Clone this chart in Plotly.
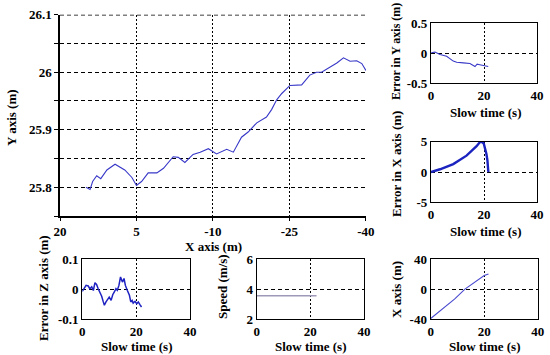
import plotly.graph_objects as go

# ---------------- data ----------------
main_x = [14.9, 14.1, 13.6, 12.8, 12.0, 10.8, 9.2, 7.3, 5.9, 5.0, 4.0, 2.7, 1.0, -0.3, -2.2, -3.2,
          -4.5, -6.1, -7.5, -9.1, -10.7, -12.7, -14.0, -15.6, -16.9, -18.6, -20.5, -21.5, -22.5,
          -23.5, -25.1, -27.4, -29.0, -30.3, -31.3, -32.9, -34.3, -35.6, -36.9, -38.2, -39.2, -40.0]
main_y = [25.800, 25.796, 25.810, 25.820, 25.815, 25.830, 25.840, 25.830, 25.817, 25.803, 25.810,
          25.825, 25.825, 25.833, 25.853, 25.852, 25.843, 25.857, 25.861, 25.867, 25.858, 25.866,
          25.861, 25.887, 25.896, 25.912, 25.922, 25.935, 25.952, 25.963, 25.977, 25.978, 25.995,
          26.000, 26.000, 26.009, 26.016, 26.025, 26.019, 26.020, 26.015, 26.003]

ey_t = [0.1, 1.5, 3.4, 5.9, 8.4, 9.7, 12.2, 14.7, 16.6, 17.4, 18.4, 19.7, 21.6]
ey_v = [0.01, 0.02, -0.02, -0.05, -0.13, -0.15, -0.16, -0.17, -0.22, -0.18, -0.19, -0.20, -0.22]

ex_t = [0.0, 3.4, 8.4, 13.4, 17.2, 18.4, 19.1, 19.9, 20.9, 21.3, 21.6, 21.8]
ex_v = [0.0, 0.45, 1.3, 2.7, 4.26, 4.9, 5.0, 4.7, 3.0, 1.9, 0.17, 0.0]

ez_t = [0.0, 0.6, 1.4, 2.2, 2.8, 3.5, 4.1, 4.7, 5.3, 5.9, 6.6, 7.2, 7.8, 8.2, 8.8, 9.3, 10.0, 10.7,
        11.3, 11.9, 12.5, 13.0, 13.6, 14.2, 14.9, 15.5, 16.0, 16.7, 17.5, 18.0, 18.5, 18.9, 19.6,
        20.2, 20.8, 21.4, 22.0]
ez_v = [-0.007, 0.004, 0.013, 0.011, 0.002, 0.008, -0.004, 0.022, 0.016, 0.002, -0.009, -0.023,
        -0.042, -0.053, -0.042, -0.034, -0.026, -0.037, -0.018, -0.009, 0.002, -0.003, 0.013,
        0.041, 0.024, 0.036, 0.013, -0.003, -0.020, -0.042, -0.037, -0.046, -0.040, -0.048,
        -0.042, -0.051, -0.059]

sp_t = [0.0, 22.3]
sp_v = [3.55, 3.55]

xt_t = [0.0, 4.5, 9.0, 12.8, 16.0, 20.0, 21.6]
xt_v = [-39.0, -26.0, -13.0, 0.0, 8.0, 18.0, 20.0]

main_xticks = [20, 5, -10, -25, -40]
main_yticks = [25.8, 25.9, 26.0, 26.1]
slow_ticks = [0, 20, 40]

W, H = 550, 355
FONT = "Liberation Serif, Times New Roman, DejaVu Serif, serif"
DASH = "4px,3px"
DOT = "2px,2px"


def px(x):
    return x / W


def py(y):
    return 1 - y / H


fig = go.Figure()

fig.add_trace(go.Scatter(x=main_x, y=main_y, mode="lines",
                         line=dict(color="#3838c8", width=1.1), xaxis="x", yaxis="y"))

tickfont = dict(family=FONT, size=13, color="black", weight="bold")
titlefont = dict(family=FONT, size=13, color="black", weight="bold")

layout = dict(
    width=W, height=H, margin=dict(l=0, r=0, t=0, b=0, autoexpand=False),
    paper_bgcolor="white", plot_bgcolor="white", showlegend=False,
    font=dict(family=FONT),
)

layout["xaxis"] = dict(
    domain=[px(60), px(366)], range=[20, -40.02], tickvals=main_xticks,
    ticktext=[str(v) for v in main_xticks],
    showline=True, linecolor="black", linewidth=1.5, ticks="outside", ticklen=3,
    tickcolor="black", tickwidth=1.2, tickfont=tickfont,
    showgrid=True, gridcolor="black", griddash=DOT, gridwidth=1.3,
    zeroline=False, anchor="y", automargin=False,
)
layout["yaxis"] = dict(
    domain=[py(216), py(14.7)], range=[25.75, 26.1], tickvals=main_yticks,
    ticktext=["25.8", "25.9", "26", "26.1"],
    showline=True, linecolor="black", linewidth=1.5, ticks="outside", ticklen=4,
    tickcolor="black", tickwidth=1.2, tickfont=tickfont,
    showgrid=True, gridcolor="black", griddash=DASH, gridwidth=1.2,
    minor=dict(dtick=0.05, tick0=25.75, showgrid=True, gridcolor="black", griddash=DASH,
               gridwidth=1.2, ticks="outside", ticklen=4, tickcolor="black"),
    zeroline=False, anchor="x", automargin=False,
)

panels = [
    dict(n=2, xd=(431, 537), yd=(23.3, 83.3), yr=[-0.5, 0.5], yt=[-0.5, 0, 0.5],
         ytt=["-0.5", "0", "0.5"], t=ey_t, v=ey_v, color="#3a3ac8", w=1.1),
    dict(n=3, xd=(431, 537), yd=(141.7, 202.3), yr=[-5, 5], yt=[-5, 0, 5],
         ytt=["-5", "0", "5"], t=ex_t, v=ex_v, color="#1c24c0", w=2.4),
    dict(n=4, xd=(82.3, 190), yd=(259.3, 319.3), yr=[-0.1, 0.1], yt=[-0.1, 0, 0.1],
         ytt=["-0.1", "0", "0.1"], t=ez_t, v=ez_v, color="#1e22c0", w=1.5),
    dict(n=5, xd=(256.7, 364), yd=(259, 319), yr=[2, 6], yt=[2, 4, 6],
         ytt=["2", "4", "6"], t=sp_t, v=sp_v, color="#a098b8", w=1.6),
    dict(n=6, xd=(430.7, 537.7), yd=(259, 319.3), yr=[-40, 40], yt=[-40, 0, 40],
         ytt=["-40", "0", "40"], t=xt_t, v=xt_v, color="#4a4ad0", w=1.1),
]

for p in panels:
    n = p["n"]
    fig.add_trace(go.Scatter(x=p["t"], y=p["v"], mode="lines",
                             line=dict(color=p["color"], width=p["w"]),
                             xaxis=f"x{n}", yaxis=f"y{n}"))
    layout[f"xaxis{n}"] = dict(
        domain=[px(p["xd"][0]), px(p["xd"][1])], range=[0, 40], tickvals=slow_ticks,
        ticktext=[str(v) for v in slow_ticks],
        showline=True, mirror=True, linecolor="black", linewidth=1.3, ticks="",
        tickfont=tickfont, showgrid=True, gridcolor="black", griddash=DOT, gridwidth=1.4,
        zeroline=False, anchor=f"y{n}", automargin=False,
    )
    layout[f"yaxis{n}"] = dict(
        domain=[py(p["yd"][1]), py(p["yd"][0])], range=p["yr"], tickvals=p["yt"],
        ticktext=p["ytt"],
        showline=True, mirror=True, linecolor="black", linewidth=1.3, ticks="",
        tickfont=tickfont, showgrid=True, gridcolor="black", griddash=DASH, gridwidth=1.2,
        zeroline=False, anchor=f"x{n}", automargin=False,
    )

fig.update_layout(**layout)

# top dashed gridline of the main plot (at the top tick value)
fig.add_shape(type="line", xref="x domain", yref="y", x0=0, x1=1,
              y0=main_yticks[-1], y1=main_yticks[-1],
              line=dict(color="black", width=1.4, dash=DASH), layer="above")

titles = [
    ("Y axis (m)", 11, 118, 90, 13),
    ("X axis (m)", 213, 246, 0, 13),
    ("Error in Y axis (m)", 396, 52, 90, 12),
    ("Slow time (s)", 486, 112, 0, 13),
    ("Error in X axis (m)", 396, 164, 90, 13),
    ("Slow time (s)", 486, 231, 0, 13),
    ("Error in Z axis (m)", 43, 288, 90, 13),
    ("Slow time (s)", 137, 346, 0, 13),
    ("Speed (m/s)", 222, 287, 90, 13),
    ("Slow time (s)", 311, 346, 0, 13),
    ("X axis (m)", 396, 290, 90, 13),
    ("Slow time (s)", 485, 346, 0, 13),
]
for text, x, y, rot, size in titles:
    f = dict(titlefont)
    f["size"] = size
    fig.add_annotation(text=text, x=px(x), y=py(y), xref="paper", yref="paper",
                       showarrow=False, textangle=-rot if rot else 0,
                       xanchor="center", yanchor="middle", font=f)

fig.write_html("out.html", config={"displayModeBar": False},
               post_script="document.body.style.margin='0';document.body.style.padding='0';")
